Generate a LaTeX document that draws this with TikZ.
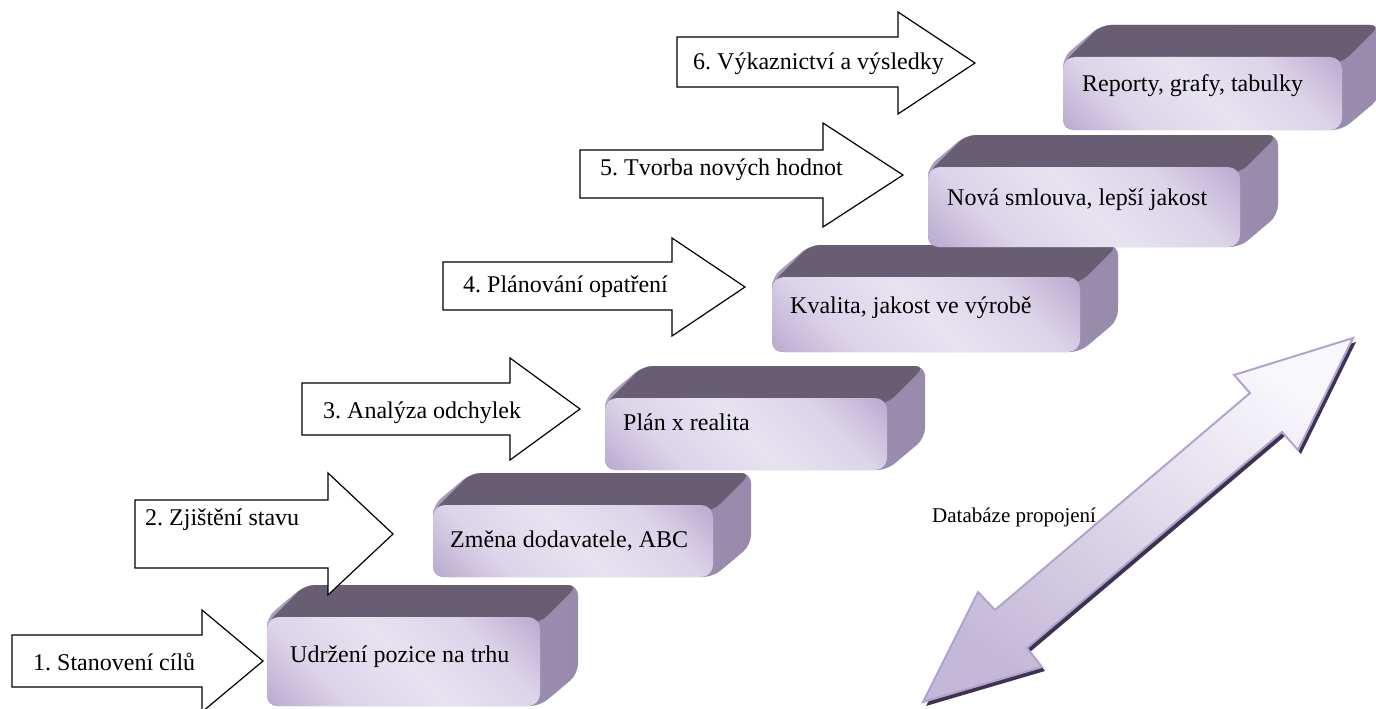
\documentclass[tikz,border=0pt]{standalone}
\usepackage{fontspec}
\setmainfont{Liberation Serif}
\newfontfamily\stepfont{Liberation Serif}
\frenchspacing
\definecolor{topface}{HTML}{675E74}
\definecolor{sidea}{HTML}{AC9DC0}
\definecolor{sideb}{HTML}{978AAB}
\definecolor{fdark}{HTML}{BDADD2}
\definecolor{fmid}{HTML}{DCD4E9}
\definecolor{flight}{HTML}{E7E2F0}
\definecolor{dbline}{HTML}{B2A2CE}
\definecolor{dbdark}{HTML}{C4B8D8}
\definecolor{dblight}{HTML}{F8F7FB}
\definecolor{dbshadow}{HTML}{3D3350}
\pgfdeclarehorizontalshading{frontshade}{100bp}{color(0bp)=(fdark); color(16bp)=(fdark); color(31bp)=(fmid); color(50bp)=(flight); color(69bp)=(fmid); color(84bp)=(fdark); color(100bp)=(fdark)}
% depth of the extruded blocks
\newcommand\bdx{38}
\newcommand\bdy{-32}
% #1 name, #2 left, #3 top, #4 right, #5 bottom of the front face, #6 label, #7/#8 label base
\newcommand\stepblock[8]{%
  \shade[left color=sidea, right color=sideb, rounded corners=10pt]
    (#2,#3) -- (#2+\bdx,#3+\bdy) -- (#4+\bdx,#3+\bdy) -- (#4+\bdx,#5+\bdy) -- (#4,#5) -- (#2,#5) -- cycle;
  \fill[topface, rounded corners=10pt]
    (#2,#3+6) -- (#2+\bdx,#3+\bdy) -- (#4+\bdx,#3+\bdy) -- (#4,#3+6) -- cycle;
  \node[frontface, minimum width={#4-#2}, minimum height={#5-#3}]
    (#1) at ({(#2+#4)/2},{(#3+#5)/2}) {};
  \node[steplabel] (#1-label) at (#7,#8) {#6};
}
% #1 name, #2 tail x, #3 shaft top, #4 shaft bottom, #5 head base x, #6 head top, #7 head bottom, #8 tip x
\newcommand\steparrow[8]{%
  \draw[steparrowshape] (#2,#3) -- (#5,#3) -- (#5,#6) -- (#8,{(#6+#7)/2}) coordinate (#1-tip)
    -- (#5,#7) -- (#5,#4) -- (#2,#4) -- cycle;
}
\begin{document}
\begin{tikzpicture}[x=1pt,y=-1pt,
  frontface/.style={shade, shading=frontshade, shading angle=45, rounded corners=12pt, inner sep=0pt, outer sep=0pt},
  steplabel/.style={anchor=base west, inner sep=0pt, font=\stepfont\fontsize{24}{28}\selectfont},
  steparrowshape/.style={draw=black, line width=1.2pt, fill=white, line join=miter},
  smalllabel/.style={anchor=base west, inner sep=0pt, font=\stepfont\fontsize{21}{25}\selectfont}]
\useasboundingbox (0,0) rectangle (1376,709);

% stair blocks, lowest first
\stepblock{b1}{267}{617}{540}{706}{Udržení pozice na trhu}{290}{662}
\stepblock{b2}{433}{505}{713}{577}{Změna dodavatele, ABC}{450}{547}
\stepblock{b3}{605}{398}{887}{470}{Plán x realita}{623}{430}
\stepblock{b4}{772}{277}{1080}{352}{Kvalita, jakost ve výrobě}{790}{313}
\stepblock{b5}{928}{167}{1240}{247}{Nová smlouva, lepší jakost}{947}{205}
\stepblock{b6}{1063}{57}{1342}{130}{Reporty, grafy, tabulky}{1082}{92}

% step arrows
\steparrow{a1}{12}{635}{687}{202}{610}{712}{263}
\node[steplabel] (a1-label) at (33,670) {1. Stanovení cílů};
\steparrow{a2}{135}{500}{568}{328}{473}{595}{393}
\node[steplabel] (a2-label) at (145,525) {2. Zjištění stavu};
\steparrow{a3}{302}{383}{435}{510}{358}{460}{580}
\node[steplabel] (a3-label) at (323,418) {3. Analýza odchylek};
\steparrow{a4}{443}{262}{310}{672}{238}{336}{745}
\node[steplabel] (a4-label) at (463,292) {4. Plánování opatření};
\steparrow{a5}{580}{150}{198}{823}{123}{227}{903}
\node[steplabel] (a5-label) at (600,175) {5. Tvorba nových hodnot};
\steparrow{a6}{677}{37}{87}{898}{12}{114}{975}
\node[steplabel] (a6-label) at (693,70) {6. Výkaznictví a výsledky};

% double-headed database arrow with its shadow
\coordinate (t1) at (1353,338);
\coordinate (ha) at (1234,375);
\coordinate (hb) at (1250,393);
\coordinate (lc) at (995,610);
\coordinate (ld) at (978,592);
\coordinate (t2) at (923,702);
\coordinate (le) at (1042,667);
\coordinate (lf) at (1027,648);
\coordinate (hg) at (1282,432);
\coordinate (hh) at (1298,450);
\fill[dbshadow]
  ([xshift=3pt,yshift=-4pt]t1) -- ([xshift=3pt,yshift=-4pt]ha) -- ([xshift=3pt,yshift=-4pt]hb)
  -- ([xshift=3pt,yshift=-4pt]lc) -- ([xshift=3pt,yshift=-4pt]ld) -- ([xshift=3pt,yshift=-4pt]t2)
  -- ([xshift=3pt,yshift=-4pt]le) -- ([xshift=3pt,yshift=-4pt]lf) -- ([xshift=3pt,yshift=-4pt]hg)
  -- ([xshift=3pt,yshift=-4pt]hh) -- cycle;
\shade[top color=dblight, bottom color=dbdark, shading angle=-35]
  (t1) -- (ha) -- (hb) -- (lc) -- (ld) -- (t2) -- (le) -- (lf) -- (hg) -- (hh) -- cycle;
\draw[dbline, line width=2pt, line join=miter]
  (t1) -- (ha) -- (hb) -- (lc) -- (ld) -- (t2) -- (le) -- (lf) -- (hg) -- (hh) -- cycle;
\node[smalllabel] (db-label) at (932,522) {Databáze propojení};
\end{tikzpicture}
\end{document}
